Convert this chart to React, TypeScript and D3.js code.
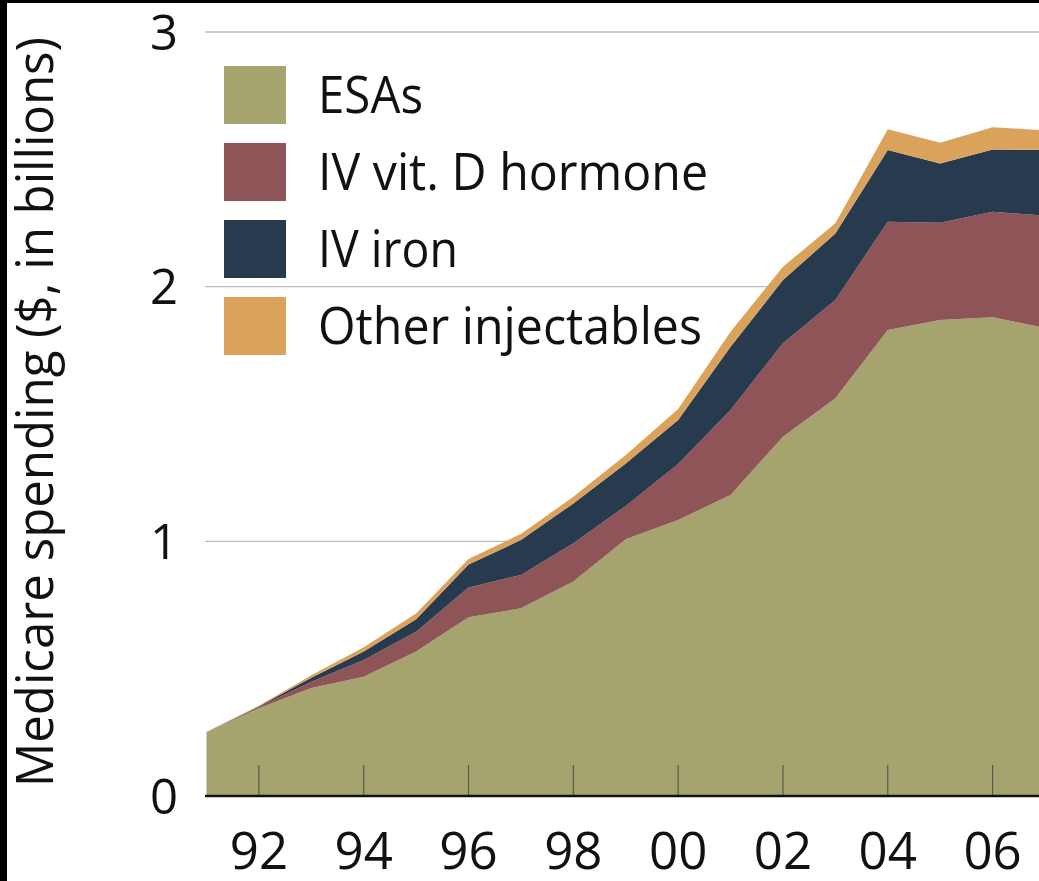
import React from "react";
import * as d3 from "d3";

// Medicare spending on injectables, $ billions
const years = [1991, 1992, 1993, 1994, 1995, 1996, 1997, 1998, 1999, 2000, 2001, 2002, 2003, 2004, 2005, 2006, 2007];
const esas = [0.25, 0.345, 0.424, 0.468, 0.567, 0.702, 0.737, 0.842, 1.008, 1.084, 1.182, 1.411, 1.562, 1.83, 1.869, 1.88, 1.838];
const vitD = [0, 0.005, 0.025, 0.066, 0.078, 0.117, 0.131, 0.15, 0.131, 0.22, 0.334, 0.367, 0.386, 0.425, 0.382, 0.414, 0.441];
const iron = [0, 0.002, 0.015, 0.033, 0.049, 0.09, 0.137, 0.157, 0.167, 0.172, 0.248, 0.248, 0.261, 0.282, 0.233, 0.245, 0.258];
const other = [0.002, 0.002, 0.01, 0.017, 0.023, 0.022, 0.024, 0.026, 0.033, 0.044, 0.059, 0.052, 0.04, 0.081, 0.081, 0.087, 0.077];

const seriesNames = ["ESAs", "IV vit. D hormone", "IV iron", "Other injectables"];
const seriesColors = ["#a6a46e", "#8f5458", "#283b4e", "#daa25a"];
// text widths measured on the reference
const legendWidths = [105, 390, 140, 384];
const yTicks = [0, 1, 2, 3];
const xTicks = [1992, 1994, 1996, 1998, 2000, 2002, 2004, 2006];

const FONT = "'Open Sans', 'DejaVu Sans', sans-serif";

export default function App() {
  const width = 1039;
  const height = 881;
  const left = 205;
  const baseY = 796;

  const table = years.map((yr, i) => ({
    year: yr,
    "ESAs": esas[i],
    "IV vit. D hormone": vitD[i],
    "IV iron": iron[i],
    "Other injectables": other[i],
  }));
  const stacked = d3.stack().keys(seriesNames)(table as any);

  const x = d3.scaleLinear().domain([1991, 2007]).range([206.5, 1045]);
  const y = d3.scaleLinear().domain([0, 3]).range([baseY, 32]);

  const area = d3
    .area<any>()
    .x((d) => x(d.data.year))
    .y0((d) => y(d[0]))
    .y1((d) => y(d[1]));

  return (
    <div style={{ position: "absolute", left: 0, top: 0 }}>
      <svg width={width} height={height} style={{ display: "block", background: "white" }}>
        <defs>
          <clipPath id="plot">
            <rect x={left} y={0} width={width - left} height={baseY} />
          </clipPath>
        </defs>
        {/* grid */}
        {yTicks
          .filter((t) => t > 0)
          .map((t) => (
            <line key={t} x1={left} x2={width} y1={y(t)} y2={y(t)} stroke="#bdbdbd" strokeWidth={1.3} />
          ))}
        <g clipPath="url(#plot)">
          {stacked.map((s, i) => (
            <path key={s.key} d={area(s as any) || ""} fill={seriesColors[i]} />
          ))}
        </g>
        {/* ticks inside plot */}
        {xTicks.map((t) => (
          <line key={t} x1={x(t)} x2={x(t)} y1={baseY - 31} y2={baseY} stroke="#5a5a4a" strokeWidth={1.2} />
        ))}
        <line x1={left} x2={width} y1={baseY} y2={baseY} stroke="#111" strokeWidth={2.6} />
        {/* y labels */}
        {yTicks.map((t) => (
          <text key={t} x={164} y={y(t)} dy="0.36em" textAnchor="middle" fontFamily={FONT} fontSize={49} fill="#111">
            {t}
          </text>
        ))}
        {/* x labels */}
        {xTicks.map((t) => (
          <text key={t} x={x(t)} y={869} textAnchor="middle" fontFamily={FONT} fontSize={51} fill="#111">
            {d3.format("02d")(t % 100)}
          </text>
        ))}
        <text
          transform={`translate(53,412) rotate(-90)`}
          textAnchor="middle"
          fontFamily={FONT}
          fontSize={52}
          fill="#111"
          textLength={750}
          lengthAdjust="spacingAndGlyphs"
        >
          Medicare spending ($, in billions)
        </text>
        {/* legend */}
        {seriesNames.map((name, i) => (
          <g key={name} transform={`translate(224,${66 + i * 77})`}>
            <rect width={62} height={58} fill={seriesColors[i]} />
            <text
              x={94}
              y={47}
              fontFamily={FONT}
              fontSize={52}
              fill="#111"
              textLength={legendWidths[i]}
              lengthAdjust="spacingAndGlyphs"
            >
              {name}
            </text>
          </g>
        ))}
        {/* dark frame edges */}
        <rect x={0} y={0} width={width} height={3} fill="#000" />
        <rect x={0} y={0} width={7} height={height} fill="#000" />
      </svg>
    </div>
  );
}
